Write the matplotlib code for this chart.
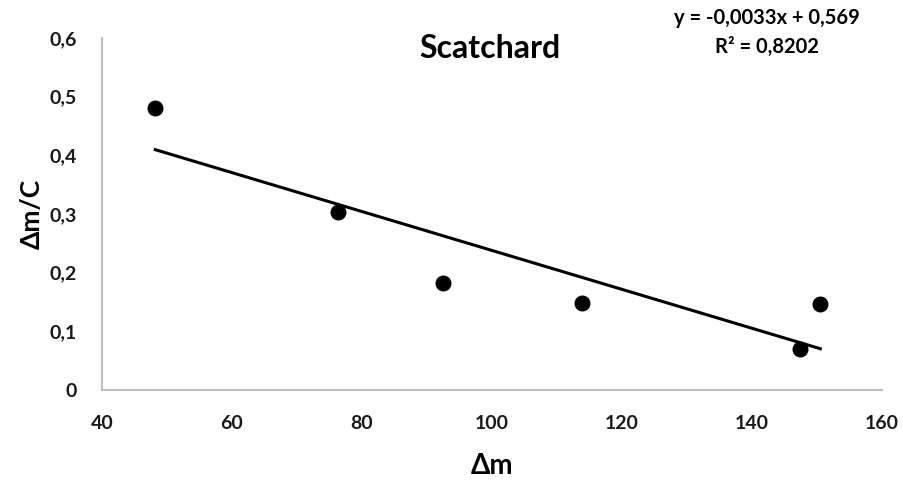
import matplotlib.pyplot as plt
import numpy as np

plt.rcParams['font.family'] = ['Lato', 'DejaVu Sans']

# data
dm = [48.2, 76.3, 92.5, 113.8, 147.4, 150.5]
dm_c = [0.481, 0.303, 0.182, 0.149, 0.070, 0.147]
x_ticks = [40, 60, 80, 100, 120, 140, 160]
y_ticks = [0, 0.1, 0.2, 0.3, 0.4, 0.5, 0.6]
y_labels = ['0', '0,1', '0,2', '0,3', '0,4', '0,5', '0,6']

fig = plt.figure(figsize=(9.04, 4.8), dpi=100)
ax = fig.add_axes([0.1128, 0.1875, 0.8629, 0.7333])

ax.scatter(dm, dm_c, s=110, color='black', zorder=3)

# linear trendline over the data range
k, b = np.polyfit(dm, dm_c, 1)
xs = np.array([min(dm), max(dm)])
ax.plot(xs, k * xs + b, color='black', lw=2.2, zorder=2)

ax.set_xlim(40, 160)
ax.set_ylim(0, 0.6)
ax.set_xticks(x_ticks)
ax.set_xticklabels([str(v) for v in x_ticks])
ax.set_yticks(y_ticks)
ax.set_yticklabels(y_labels)
ax.tick_params(length=0, labelsize=14)
ax.tick_params(axis='x', pad=18)
ax.tick_params(axis='y', pad=18)
for lab in ax.get_xticklabels() + ax.get_yticklabels():
    lab.set_fontweight('bold')
    lab.set_color('#1a1a1a')

for s in ['top', 'right']:
    ax.spines[s].set_visible(False)
for s in ['left', 'bottom']:
    ax.spines[s].set_color('#bfbfbf')
    ax.spines[s].set_linewidth(1.5)

ax.set_xlabel('Δm', fontsize=20, fontweight='bold', labelpad=15)
ax.set_ylabel('Δm/C', fontsize=19, fontweight='bold', labelpad=4)

fig.text(0.542, 0.90, 'Scatchard', fontsize=23, fontweight='bold', ha='center', va='center')
fig.text(0.848, 0.962, 'y = -0,0033x + 0,569', fontsize=14.5, fontweight='bold', ha='center', va='center')
fig.text(0.848, 0.902, 'R² = 0,8202', fontsize=14.5, fontweight='bold', ha='center', va='center')

fig.savefig('out.png', dpi=100)
